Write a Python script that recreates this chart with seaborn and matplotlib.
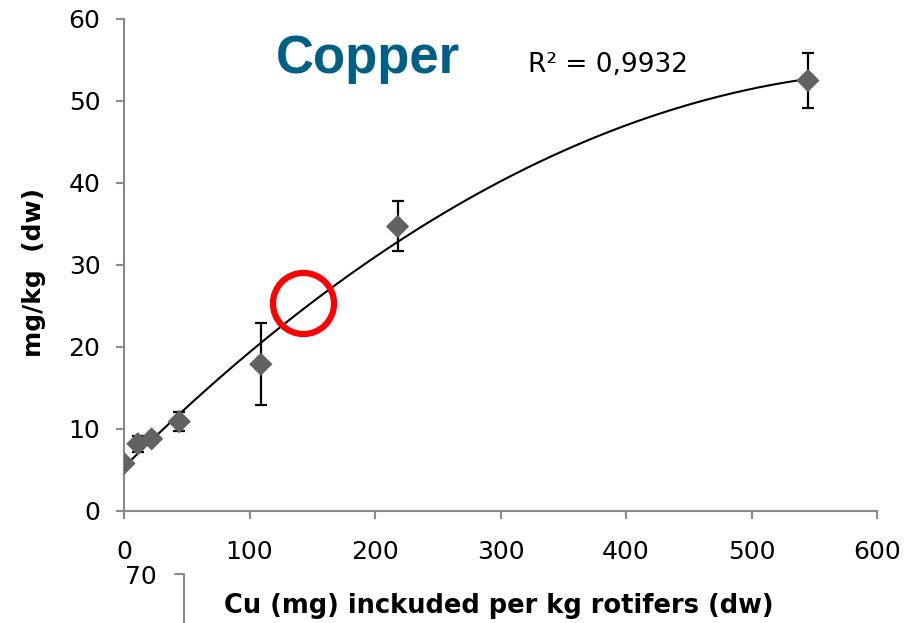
import numpy as np
import pandas as pd
import seaborn as sns
import matplotlib.pyplot as plt
from matplotlib.lines import Line2D

# Copper dose in feed (mg per kg rotifers, dw) and measured tissue copper (mg/kg dw)
cu_included = [0, 11, 22, 44, 109, 218, 545]
cu_measured = [5.8, 8.2, 8.8, 10.9, 17.9, 34.7, 52.5]
cu_sd = [0.0, 1.0, 0.0, 1.2, 5.0, 3.05, 3.4]
r_squared_label = "R² = 0,9932"
x_ticks = [0, 100, 200, 300, 400, 500, 600]
y_ticks = [0, 10, 20, 30, 40, 50, 60]
highlight_point = (143, 25.4)

df = pd.DataFrame({"included": cu_included, "measured": cu_measured, "sd": cu_sd})

sns.set_style("white")
plt.rcParams["font.family"] = ["DejaVu Sans"]
plt.rcParams["text.color"] = "black"

fig = plt.figure(figsize=(9.23, 6.23), dpi=100)
ax = fig.add_axes([124 / 923, 1 - 511 / 623, 753 / 923, 492 / 623])

# second-order polynomial trend line
coef = np.polyfit(df["included"], df["measured"], 2)
xs = np.linspace(0, max(cu_included), 300)
trend = pd.DataFrame({"x": xs, "y": np.polyval(coef, xs)})
sns.lineplot(data=trend, x="x", y="y", ax=ax, color="black", lw=1.5, zorder=2)

# error bars, then the diamond markers
ax.errorbar(df["included"], df["measured"], yerr=df["sd"], fmt="none",
            ecolor="black", elinewidth=1.6, capsize=4.3, capthick=1.6, zorder=3)
sns.scatterplot(data=df, x="included", y="measured", ax=ax, marker="D",
                s=140, color="#626262", edgecolor="none", zorder=4)

# highlight ring
ax.plot([highlight_point[0]], [highlight_point[1]], marker="o", ms=44,
        mfc="none", mec="#ff0000", mew=4.5, zorder=5, clip_on=False)

ax.set_xlim(0, 600)
ax.set_ylim(0, 60)
ax.set_xticks(x_ticks)
ax.set_yticks(y_ticks)
ax.set_xlabel("")
ax.set_ylabel("")

for side in ("top", "right"):
    ax.spines[side].set_visible(False)
for side in ("left", "bottom"):
    ax.spines[side].set_color("#8a8a8a")
    ax.spines[side].set_linewidth(1.5)

ax.tick_params(axis="both", direction="out", length=6, width=1.5, color="#8a8a8a",
               labelsize=18, labelcolor="black")
ax.tick_params(axis="x", pad=15)
ax.tick_params(axis="y", pad=11)
ax.xaxis.set_ticks_position("bottom")
ax.yaxis.set_ticks_position("left")

# title and fit statistic
fig.text(368 / 923, 1 - 73 / 623, "Copper", family="Liberation Sans", weight="bold",
         fontsize=38, color="#005f87", ha="center", va="baseline")
fig.text(528 / 923, 1 - 72 / 623, r_squared_label, fontsize=19, color="black",
         ha="left", va="baseline")

# axis titles
fig.text(34 / 923, 1 - 272 / 623, "mg/kg  (dw)", rotation=90, weight="bold",
         fontsize=18, color="black", ha="center", va="center")
fig.text(499 / 923, 1 - 613 / 623, "Cu (mg) inckuded per kg rotifers (dw)",
         weight="bold", fontsize=18.5, color="black", ha="center", va="baseline")

# top of a neighbouring axis peeking in below
fig.add_artist(Line2D([175 / 923, 184 / 923, 184 / 923],
                      [1 - 574 / 623, 1 - 574 / 623, 0.0],
                      color="#8a8a8a", lw=1.5))
fig.text(157 / 923, 1 - 577 / 623, "70", fontsize=18, color="black",
         ha="right", va="center")

fig.savefig("out.png", dpi=100)
